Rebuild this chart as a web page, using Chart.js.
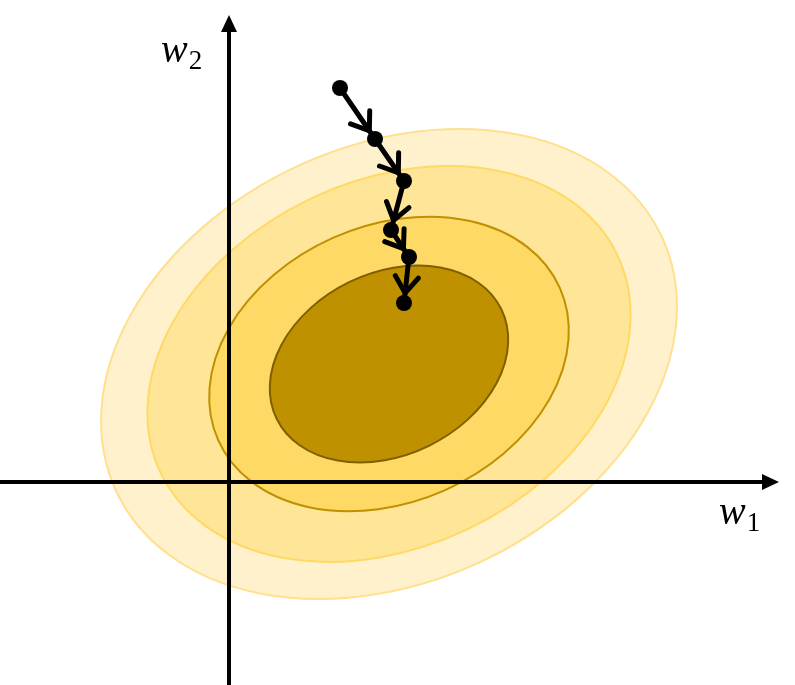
<!DOCTYPE html>
<html>
<head>
<meta charset="utf-8">
<script src="https://cdn.jsdelivr.net/npm/chart.js@4"></script>
<style>
  html, body { margin: 0; padding: 0; background: #ffffff; }
  #wrap { width: 795px; height: 685px; }
</style>
</head>
<body>
<div id="wrap"><canvas id="descente" width="795" height="685"></canvas></div>
<script>
// --- chemin de la descente de gradient (w1, w2) ---
const cheminW1 = [1.11, 1.46, 1.75, 1.62, 1.80, 1.75];
const cheminW2 = [3.94, 3.43, 3.01, 2.52, 2.25, 1.79];

// --- courbes de niveau : centre, demi-axes, inclinaison ---
const centreMin = [1.60, 1.18];
const demiGrandAxe = [3.01, 2.53, 1.87, 1.25];
const demiPetitAxe = [2.18, 1.83, 1.38, 0.91];
const inclinaison = [25, 25.5, 24, 26];

// --- étiquettes des axes ---
const etiquettes = [['w', '1'], ['w', '2']];

const remplissages = ['#FFF1CC', '#FFE598', '#FFD966', '#BF9000'];
const contours = ['#FFE08F', '#FFD966', '#BF9000', '#7F6000'];

const pointsChemin = cheminW1.map((x, i) => ({ x: x, y: cheminW2[i] }));

const ellipses = {
    id: 'ellipses',
    beforeDatasetsDraw(chart) {
        const ctx = chart.ctx;
        const sx = chart.scales.x, sy = chart.scales.y;
        const cx = sx.getPixelForValue(centreMin[0]);
        const cy = sy.getPixelForValue(centreMin[1]);
        const kx = sx.getPixelForValue(1) - sx.getPixelForValue(0);
        const ky = sy.getPixelForValue(0) - sy.getPixelForValue(1);
        ctx.save();
        demiGrandAxe.forEach((a, i) => {
            ctx.beginPath();
            ctx.ellipse(cx, cy, a * kx, demiPetitAxe[i] * ky, -inclinaison[i] * Math.PI / 180, 0, 2 * Math.PI);
            ctx.fillStyle = remplissages[i];
            ctx.fill();
            ctx.lineWidth = 2;
            ctx.strokeStyle = contours[i];
            ctx.stroke();
        });

        // axes avec flèches
        const x0 = sx.getPixelForValue(0), y0 = sy.getPixelForValue(0);
        const droite = sx.right - 16, haut = sy.top + 15;
        ctx.strokeStyle = '#000';
        ctx.fillStyle = '#000';
        ctx.lineWidth = 4;
        ctx.beginPath();
        ctx.moveTo(sx.left, y0);
        ctx.lineTo(droite - 14, y0);
        ctx.moveTo(x0, sy.bottom);
        ctx.lineTo(x0, haut + 14);
        ctx.stroke();
        ctx.beginPath();
        ctx.moveTo(droite, y0);
        ctx.lineTo(droite - 17, y0 - 8);
        ctx.lineTo(droite - 17, y0 + 8);
        ctx.closePath();
        ctx.moveTo(x0, haut);
        ctx.lineTo(x0 - 8, haut + 17);
        ctx.lineTo(x0 + 8, haut + 17);
        ctx.closePath();
        ctx.fill();

        // étiquettes w1, w2
        const ecrire = (lbl, px, py) => {
            ctx.textBaseline = 'alphabetic';
            ctx.textAlign = 'left';
            ctx.font = 'italic 40px "Liberation Serif", serif';
            ctx.fillText(lbl[0], px, py);
            const w = ctx.measureText(lbl[0]).width;
            ctx.font = '27px "Liberation Serif", serif';
            ctx.fillText(lbl[1], px + w + 1, py + 7);
        };
        ecrire(etiquettes[0], 719, 524);
        ecrire(etiquettes[1], 161, 62);
        ctx.restore();
    }
};

const fleches = {
    id: 'fleches',
    afterDatasetsDraw(chart) {
        const ctx = chart.ctx;
        const meta = chart.getDatasetMeta(0);
        ctx.save();
        ctx.strokeStyle = '#000';
        ctx.lineWidth = 5;
        ctx.lineCap = 'round';
        ctx.lineJoin = 'miter';
        for (let i = 0; i < meta.data.length - 1; i++) {
            const p = meta.data[i], q = meta.data[i + 1];
            const dx = q.x - p.x, dy = q.y - p.y;
            const L = Math.hypot(dx, dy);
            const ux = dx / L, uy = dy / L;
            const tx = q.x - ux * 10, ty = q.y - uy * 10;
            const ang = Math.atan2(uy, ux);
            const bras = 20, ouv = 0.62;
            ctx.beginPath();
            ctx.moveTo(tx - bras * Math.cos(ang - ouv), ty - bras * Math.sin(ang - ouv));
            ctx.lineTo(tx, ty);
            ctx.lineTo(tx - bras * Math.cos(ang + ouv), ty - bras * Math.sin(ang + ouv));
            ctx.stroke();
        }
        ctx.restore();
    }
};

const ctxDescente = document.getElementById('descente').getContext('2d');
new Chart(ctxDescente, {
    type: 'scatter',
    data: {
        datasets: [{
            data: pointsChemin,
            showLine: true,
            borderColor: '#000',
            borderWidth: 5,
            pointRadius: 8,
            pointBackgroundColor: '#000',
            pointBorderColor: '#000',
            pointBorderWidth: 0
        }]
    },
    options: {
        responsive: false,
        animation: false,
        layout: { padding: 0, autoPadding: false },
        scales: {
            x: { type: 'linear', min: -2.29, max: 5.66, display: false },
            y: { type: 'linear', min: -2.03, max: 4.82, display: false }
        },
        plugins: {
            legend: { display: false },
            tooltip: { enabled: false }
        }
    },
    plugins: [ellipses, fleches]
});
</script>
</body>
</html>
